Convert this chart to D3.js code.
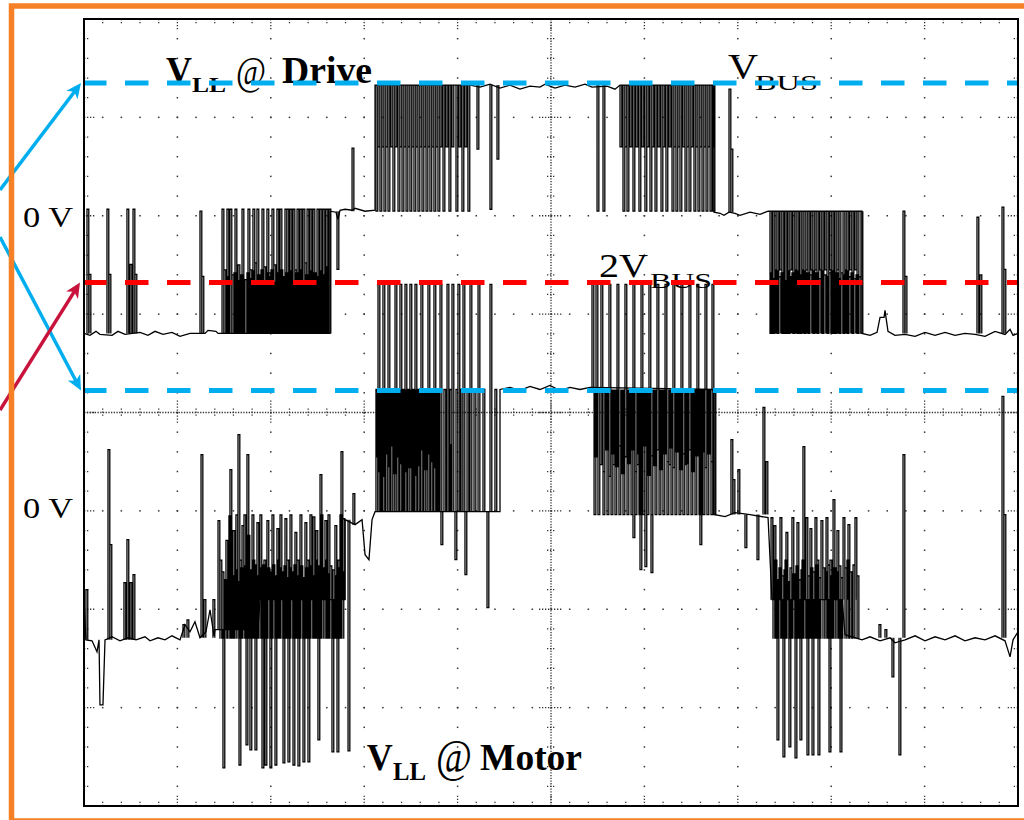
<!DOCTYPE html>
<html><head><meta charset="utf-8">
<script src="https://cdn.jsdelivr.net/npm/d3@7"></script>
<style>body{margin:0;background:#fff}svg{display:block}</style>
</head><body><svg id="c" width="1024" height="820"></svg>
<script>
// ---------- data (time in divisions 0..10, voltage in divisions relative to each channel's 0 V) ----------
const channelOffsets = { drive: 2, motor: -1 };
const dH = 1.328, dM = 0.046, dL = -1.196;   // drive trace levels (+Vbus, 0, -Vbus)

const driveBase = [[0,-1.196],[0.064,-1.216],[0.128,-1.175],[0.171,-1.206],[0.300,-1.216],[0.364,-1.175],[0.439,-1.206],[0.600,-1.185],[0.685,-1.216],[0.760,-1.175],[0.846,-1.206],[0.942,-1.185],[1.028,-1.226],[1.135,-1.196],[1.296,-1.196],[1.328,-1.165],[1.413,-1.175],[1.435,-1.196],[2.634,-1.196],[2.634,0.046],[2.698,0.036],[2.720,-0.036],[2.741,0.056],[2.795,0.066],[2.870,0.056],[2.902,0.076],[3.009,0.046],[3.116,0.056],[3.116,1.328],[4.133,1.328],[4.240,1.308],[4.347,1.338],[4.454,1.298],[4.561,1.328],[4.668,1.287],[4.775,1.318],[4.882,1.308],[4.936,1.338],[5.043,1.298],[5.150,1.328],[5.257,1.308],[5.364,1.338],[5.439,1.308],[5.600,1.318],[5.685,1.287],[5.739,1.328],[6.745,1.328],[6.745,0.036],[6.810,0.025],[6.852,0.005],[6.906,0.036],[6.970,0.025],[7.024,0.005],[7.131,0.036],[7.238,0.015],[7.324,0.046],[8.330,0.046],[8.330,-1.196],[8.416,-1.216],[8.491,-1.185],[8.523,-1.033],[8.566,-1.033],[8.576,-0.962],[8.608,-1.175],[8.683,-1.216],[8.791,-1.206],[8.898,-1.226],[9.005,-1.185],[9.112,-1.216],[9.219,-1.185],[9.326,-1.216],[9.433,-1.196],[9.540,-1.206],[9.647,-1.226],[9.754,-1.175],[9.861,-1.206],[9.915,-1.155],[9.947,-1.216],[10,-1.196]];

// pulses: [time, from, to]
const driveSpikes = [[0.032,dL,0.066],[0.054,dL,-0.595],[0.246,dL,0.066],[0.268,dL,-0.595],[0.460,dL,0.066],[0.493,dL,-0.494],[0.525,dL,0.066],[0.546,dL,-0.595],[1.242,dL,0.046],[1.263,dL,-0.616],[2.709,dM,-0.545],[2.870,dM,0.687],[4.208,dH,0.677],[4.347,dH,0.066],[4.422,dH,0.576],[6.906,0.036,1.287],[6.927,0.036,0.677],[8.769,dL,0.046],[8.791,dL,-0.616],[9.561,dL,-0.015],[9.593,dL,-0.6],[9.829,dL,0.087],[9.850,dL,-0.545]];
const driveBurstA = [[1.478,dL,0.066],[1.531,dL,0.066],[1.563,dL,0.066],[1.617,dL,0.066],[1.692,dL,0.066],[1.756,dL,0.066],[1.809,dL,0.066],[1.852,dL,0.066],[1.906,dL,0.066],[1.959,dL,0.066],[2.013,dL,0.066],[2.066,dL,0.066],[2.099,dL,0.066],[2.152,dL,0.066],[2.173,dL,0.066],[2.206,dL,0.066],[2.238,dL,0.066],[2.281,dL,0.066],[2.313,dL,0.066],[2.345,dL,0.066],[2.388,dL,0.066],[2.420,dL,0.066],[2.452,dL,0.066],[2.495,dL,0.066],[2.527,dL,0.066],[2.559,dL,0.066],[2.591,dL,0.066],[2.623,dL,0.066],
  [1.499,dL,-0.55],[1.585,dL,-0.60],[1.649,dL,-0.50],[1.724,dL,-0.65],[1.777,dL,-0.55],[1.831,dL,-0.48],[1.874,dL,-0.60],[1.927,dL,-0.52],[1.981,dL,-0.58],[2.034,dL,-0.50],[2.120,dL,-0.62],[2.259,dL,-0.55],[2.366,dL,-0.48],[2.473,dL,-0.60],[2.580,dL,-0.52]];
const driveBandA = [[1.520,dL,-0.62],[1.542,dL,-0.70],[1.606,dL,-0.58],[1.638,dL,-0.66],[1.681,dL,-0.60],[1.702,dL,-0.72],[1.745,dL,-0.58],[1.767,dL,-0.64],[1.799,dL,-0.56],[1.842,dL,-0.70],[1.863,dL,-0.60],[1.895,dL,-0.55],[1.917,dL,-0.66],[1.949,dL,-0.58],[1.970,dL,-0.62],[2.002,dL,-0.55],[2.024,dL,-0.68],[2.056,dL,-0.58],[2.077,dL,-0.62],[2.109,dL,-0.55],[2.141,dL,-0.66],[2.163,dL,-0.58],[2.195,dL,-0.62],[2.216,dL,-0.56],[2.248,dL,-0.68],[2.270,dL,-0.58],[2.291,dL,-0.62],[2.323,dL,-0.55],[2.355,dL,-0.66],[2.377,dL,-0.60],[2.409,dL,-0.56],[2.430,dL,-0.68],[2.462,dL,-0.58],[2.484,dL,-0.62],[2.516,dL,-0.56],[2.538,dL,-0.66],[2.570,dL,-0.60],[2.602,dL,-0.56]];
const driveBurstB = [[3.126,dH,dM],[3.169,dH,dM],[3.212,dH,dM],[3.255,dH,dM],[3.308,dH,dM],[3.362,dH,dM],[3.405,dH,dM],[3.448,dH,dM],[3.490,dH,dM],[3.533,dH,dM],[3.576,dH,dM],[3.619,dH,dM],[3.662,dH,dM],[3.704,dH,dM],[3.747,dH,dM],[3.790,dH,dM],[3.844,dH,dM],[3.908,dH,dM],[3.983,dH,dM],[4.047,dH,dM],[4.111,dH,dM],
  [3.148,dH,0.70],[3.191,dH,0.70],[3.233,dH,0.70],[3.287,dH,0.70],[3.330,dH,0.70],[3.383,dH,0.70],[3.426,dH,0.70],[3.469,dH,0.70],[3.512,dH,0.70],[3.555,dH,0.70],[3.597,dH,0.70],[3.640,dH,0.70],[3.683,dH,0.70],[3.726,dH,0.70],[3.769,dH,0.70],[3.812,dH,0.70],[3.876,dH,0.70],[3.940,dH,0.70],[4.015,dH,0.70],[4.079,dH,0.70]];
const driveBurstC = [[5.493,dH,dM],[5.557,dH,dM],[5.771,dH,dM],[5.814,dH,dM],[5.878,dH,dM],[5.942,dH,dM],[6.006,dH,dM],[6.060,dH,dM],[6.114,dH,dM],[6.178,dH,dM],[6.231,dH,dM],[6.296,dH,dM],[6.338,dH,dM],[6.381,dH,dM],[6.435,dH,dM],[6.478,dH,dM],[6.531,dH,dM],[6.574,dH,dM],[6.617,dH,dM],[6.660,dH,dM],[6.703,dH,dM],[6.735,dH,dM],
  [5.739,dH,0.70],[5.792,dH,0.70],[5.846,dH,0.70],[5.910,dH,0.70],[5.974,dH,0.70],[6.028,dH,0.70],[6.081,dH,0.70],[6.146,dH,0.70],[6.199,dH,0.70],[6.264,dH,0.70],[6.317,dH,0.70],[6.360,dH,0.70],[6.413,dH,0.70],[6.456,dH,0.70],[6.499,dH,0.70],[6.553,dH,0.70],[6.595,dH,0.70],[6.638,dH,0.70],[6.681,dH,0.70],[6.724,dH,0.70]];
const driveBurstD = [[7.345,dM,dL],[7.377,dM,dL],[7.420,dM,dL],[7.473,dM,dL],[7.506,dM,dL],[7.538,dM,dL],[7.591,dM,dL],[7.634,dM,dL],[7.666,dM,dL],[7.709,dM,dL],[7.752,dM,dL],[7.805,dM,dL],[7.848,dM,dL],[7.902,dM,dL],[7.955,dM,dL],[8.009,dM,dL],[8.041,dM,dL],[8.084,dM,dL],[8.127,dM,dL],[8.169,dM,dL],[8.223,dM,dL],[8.277,dM,dL],[8.319,dM,dL],
  [7.399,dM,-0.55],[7.452,dM,-0.55],[7.559,dM,-0.55],[7.613,dM,-0.55],[7.688,dM,-0.55],[7.730,dM,-0.55],[7.784,dM,-0.55],[7.827,dM,-0.55],[7.880,dM,-0.55],[7.934,dM,-0.55],[7.987,dM,-0.55],[8.062,dM,-0.55],[8.148,dM,-0.55],[8.201,dM,-0.55],[8.255,dM,-0.55]];
const driveBandD = [[7.356,dL,-0.58],[7.388,dL,-0.64],[7.409,dL,-0.56],[7.441,dL,-0.62],[7.463,dL,-0.58],[7.495,dL,-0.66],[7.527,dL,-0.56],[7.548,dL,-0.62],[7.580,dL,-0.58],[7.602,dL,-0.64],[7.623,dL,-0.56],[7.656,dL,-0.60],[7.677,dL,-0.62],[7.698,dL,-0.56],[7.720,dL,-0.64],[7.741,dL,-0.58],[7.773,dL,-0.60],[7.795,dL,-0.56],[7.816,dL,-0.62],[7.837,dL,-0.58],[7.870,dL,-0.64],[7.891,dL,-0.56],[7.923,dL,-0.60],[7.945,dL,-0.62],[7.977,dL,-0.58],[7.998,dL,-0.56],[8.030,dL,-0.62],[8.052,dL,-0.58],[8.073,dL,-0.64],[8.105,dL,-0.58],[8.137,dL,-0.60],[8.159,dL,-0.56],[8.191,dL,-0.62],[8.212,dL,-0.58],[8.244,dL,-0.64],[8.266,dL,-0.60],[8.298,dL,-0.62]];

const mT = 1.234, mZ = -0.038, mB = -1.29, mE = -0.903; // motor levels
const motorBase = [[0,-0.903],[0.021,-1.311],[0.086,-1.321],[0.139,-1.433],[0.161,-1.311],[0.171,-1.972],[0.203,-1.972],[0.225,-1.311],[0.300,-1.280],[0.385,-1.321],[0.471,-1.290],[0.557,-1.311],[0.653,-1.280],[0.707,-1.321],[0.792,-1.290],[0.867,-1.311],[0.942,-1.270],[1.028,-1.311],[1.081,-1.157],[1.135,-1.229],[1.188,-1.127],[1.242,-1.290],[1.306,-1.229],[1.349,-1.005],[1.392,-1.270],[1.403,-1.208],[1.863,-1.208],[1.884,-0.903],[2.795,-0.903],[2.795,-0.089],[2.902,-0.140],[2.977,-0.089],[3.009,-0.445],[3.051,-0.496],[3.084,-0.089],[3.116,-0.008],[4.454,-0.008],[4.454,1.234],[4.561,1.255],[4.668,1.224],[4.775,1.265],[4.882,1.234],[4.989,1.275],[5.096,1.224],[5.204,1.255],[5.311,1.234],[5.418,1.255],[6.756,1.234],[6.756,-0.038],[6.863,-0.059],[6.970,-0.018],[7.131,-0.038],[7.324,-0.069],[7.366,-0.903],[8.116,-0.903],[8.148,-1.259],[8.330,-1.311],[8.416,-1.280],[8.523,-1.321],[8.630,-1.290],[8.683,-1.341],[8.791,-1.311],[8.898,-1.270],[9.005,-1.321],[9.112,-1.280],[9.219,-1.311],[9.326,-1.270],[9.433,-1.321],[9.540,-1.290],[9.647,-1.311],[9.754,-1.270],[9.861,-1.321],[9.915,-1.484],[9.947,-1.311],[10,-1.229]];

const motorSpikes = [[0.021,-1.311,-0.801],[0.257,-1.311,0.623],[0.278,-1.311,-0.343],[0.428,-1.311,-0.730],[0.460,-1.311,-0.292],[0.493,-1.311,-0.730],[0.525,-1.311,-0.648],[1.060,mB,-1.157],[1.103,mB,-1.107],[1.253,mB,0.572],[1.285,mB,-0.903],[1.381,mB,-0.903],
  [6.927,mZ,0.725],[6.949,mZ,0.318],[7.002,mZ,0.420],[7.077,mZ,-0.374],[7.206,mZ,-0.496],[7.270,mZ,1.051],[7.302,mZ,0.501],
  [8.512,mB,-1.157],[8.576,mB,-1.208],[8.651,mB,-1.687],[8.726,mB,-2.481],[8.769,mB,0.572],[9.829,mB,1.163],[9.850,mB,-0.038]];
const motorBurstE = [[1.488,-1.208,-2.613],[1.660,-1.208,-2.583],[1.735,-1.208,-2.379],[1.777,-1.208,-2.430],[1.831,-1.208,-2.430],[1.906,mE,-2.613],[1.938,mE,-2.583],[1.991,mE,-2.613],[2.045,mE,-2.583],[2.131,mE,-2.562],[2.184,mE,-2.552],[2.238,mE,-2.583],[2.291,mE,-2.593],[2.345,mE,-2.552],[2.398,mE,-2.552],[2.505,mE,-2.328],[2.655,mE,-2.450],[2.709,mE,-2.450],[2.827,-0.089,-2.440],
  [1.435,-1.208,-0.10],[1.520,-1.208,-0.30],[1.552,-1.208,-0.05],[1.595,-1.208,-0.20],[1.627,-1.208,-0.04],[1.692,-1.208,-0.15],[1.713,-1.208,-0.04],[1.756,-1.208,-0.25],[1.799,-1.208,-0.04],[1.852,-1.208,-0.12],
  [1.884,mE,-0.04],[1.959,mE,-0.10],[2.013,mE,-0.04],[2.066,mE,-0.18],[2.099,mE,-0.04],[2.152,mE,-0.08],[2.206,mE,-0.04],[2.259,mE,-0.22],[2.313,mE,-0.04],[2.366,mE,-0.12],[2.420,mE,-0.04],[2.452,mE,-0.06],[2.484,mE,-0.20],[2.538,mE,-0.04],[2.580,mE,-0.10],[2.613,mE,-0.04],[2.687,mE,-0.15],[2.741,mE,-0.04],[2.773,mE,-0.08],
  [1.563,-1.208,0.420],[1.649,-1.208,0.776],[1.745,-1.208,0.572],[2.527,mE,0.369],[2.752,mE,0.603],[2.880,-0.140,0.176],
  [1.456,-1.30,-0.50],[1.574,-1.30,-0.50],[1.670,-1.30,-0.50],[1.809,-1.30,-0.50],[1.927,-1.30,-0.50],[2.077,-1.30,-0.50],[2.173,-1.30,-0.50],[2.281,-1.30,-0.50],[2.388,-1.30,-0.50],[2.473,-1.30,-0.50],[2.591,-1.30,-0.50],[2.720,-1.30,-0.50]];
const motorBandE = [[1.478,-1.30,-0.62],[1.510,-1.30,-0.70],[1.542,-1.30,-0.58],[1.585,-1.30,-0.66],[1.617,-1.30,-0.60],[1.638,-1.30,-0.72],[1.681,-1.30,-0.58],[1.702,-1.30,-0.64],[1.724,-1.30,-0.56],[1.767,-1.30,-0.70],[1.788,-1.30,-0.60],[1.820,-1.30,-0.55],[1.842,-1.30,-0.66],[1.874,-1.30,-0.58],[1.895,-1.30,-0.62],[1.917,-1.30,-0.55],[1.949,-1.30,-0.68],[1.970,-1.30,-0.58],[2.002,-1.30,-0.62],[2.024,-1.30,-0.55],[2.056,-1.30,-0.66],[2.088,-1.30,-0.58],[2.109,-1.30,-0.62],[2.141,-1.30,-0.56],[2.163,-1.30,-0.68],[2.195,-1.30,-0.58],[2.216,-1.30,-0.62],[2.248,-1.30,-0.55],[2.270,-1.30,-0.66],[2.302,-1.30,-0.60],[2.323,-1.30,-0.56],[2.355,-1.30,-0.68],[2.377,-1.30,-0.58],[2.409,-1.30,-0.62],[2.430,-1.30,-0.56],[2.462,-1.30,-0.66],[2.495,-1.30,-0.60],[2.516,-1.30,-0.56],[2.548,-1.30,-0.62],[2.570,-1.30,-0.58],[2.602,-1.30,-0.64],[2.634,-1.30,-0.56],[2.666,-1.30,-0.60],[2.698,-1.30,-0.66],[2.730,-1.30,-0.58],[2.762,-1.30,-0.62]];
const motorBurstF = [[3.148,-0.008,2.303],[3.201,-0.008,2.303],[3.255,-0.008,2.303],[3.330,-0.008,2.303],[3.383,-0.008,2.303],[3.437,-0.008,2.303],[3.490,-0.008,2.303],[3.544,-0.008,2.303],[3.608,-0.008,2.303],[3.683,-0.008,2.303],[3.747,-0.008,2.303],[3.812,-0.008,2.303],[3.887,-0.008,2.303],[3.940,-0.008,2.303],[4.004,-0.008,2.303],[4.058,-0.008,2.303],[4.133,-0.008,2.303],[4.219,-0.008,2.303],[4.347,-0.008,2.303],
  [3.126,-0.008,mT],[3.169,-0.008,mT],[3.233,-0.008,mT],[3.287,-0.008,mT],[3.351,-0.008,mT],[3.416,-0.008,mT],[3.469,-0.008,mT],[3.523,-0.008,mT],[3.576,-0.008,mT],[3.640,-0.008,mT],[3.715,-0.008,mT],[3.780,-0.008,mT],[3.854,-0.008,mT],[3.919,-0.008,mT],[3.983,-0.008,mT],[4.037,-0.008,mT],[4.101,-0.008,mT],[4.176,-0.008,mT],[4.272,-0.008,mT],[4.400,-0.008,mT],
  [3.180,-0.008,0.674],[3.308,-0.008,0.674],[3.405,-0.008,0.674],[3.512,-0.008,0.674],[3.662,-0.008,0.674],[3.769,-0.008,0.674],[3.908,-0.008,0.674],
  [3.822,-0.008,-0.343],[3.972,-0.008,-0.496],[4.315,-0.008,-0.984],[4.079,-0.008,-0.648]];
const motorBandF = [[3.137,mT,0.55],[3.159,mT,0.40],[3.191,mT,0.62],[3.212,mT,0.35],[3.244,mT,0.58],[3.266,mT,0.45],[3.298,mT,0.66],[3.319,mT,0.38],[3.340,mT,0.55],[3.373,mT,0.48],[3.394,mT,0.62],[3.426,mT,0.40],[3.448,mT,0.58],[3.480,mT,0.44],[3.501,mT,0.66],[3.533,mT,0.36],[3.555,mT,0.56],[3.587,mT,0.46],[3.619,mT,0.62],[3.651,mT,0.42],[3.673,mT,0.58],[3.705,mT,0.50],[3.737,mT,0.64],[3.758,mT,0.44],[3.790,mT,0.60]];
const motorBurstG = [[5.461,mT,mZ],[5.503,mT,mZ],[5.557,mT,mZ],[5.600,mT,mZ],[5.643,mT,mZ],[5.685,mT,mZ],[5.728,mT,mZ],[5.771,mT,mZ],[5.814,mT,mZ],[5.857,mT,mZ],[5.900,mT,mZ],[5.942,mT,mZ],[5.985,mT,mZ],[6.028,mT,mZ],[6.071,mT,mZ],[6.114,mT,mZ],[6.157,mT,mZ],[6.199,mT,mZ],[6.242,mT,mZ],[6.285,mT,mZ],[6.328,mT,mZ],[6.371,mT,mZ],[6.413,mT,mZ],[6.456,mT,mZ],[6.499,mT,mZ],[6.542,mT,mZ],[6.585,mT,mZ],[6.628,mT,mZ],[6.670,mT,mZ],[6.713,mT,mZ],[6.745,mT,mZ],
  [5.439,mT,2.303],[5.482,mT,2.303],[5.535,mT,2.303],[5.621,mT,2.303],[5.707,mT,2.303],[5.792,mT,2.303],[5.878,mT,2.303],[5.964,mT,2.303],[6.049,mT,2.303],[6.135,mT,2.303],[6.221,mT,2.303],[6.306,mT,2.303],[6.392,mT,2.303],[6.478,mT,2.303],[6.563,mT,2.303],[6.649,mT,2.303],[6.724,mT,2.303],
  [5.953,mT,-0.598],[6.071,mT,-0.628],[5.878,mT,-0.272],[6.006,mT,-0.567],[6.595,mT,-0.343],
  [5.525,mT,0.471],[5.664,mT,0.471],[5.750,mT,0.471],[5.921,mT,0.471],[6.092,mT,0.471],[6.264,mT,0.471],[6.435,mT,0.471],[6.606,mT,0.471]];
const motorBandG = [[5.471,mT,0.55],[5.557,mT,0.40],[5.589,mT,0.62],[5.621,mT,0.35],[5.653,mT,0.58],[5.696,mT,0.45],[5.728,mT,0.66],[5.760,mT,0.38],[5.792,mT,0.55],[5.825,mT,0.48],[5.867,mT,0.62],[5.900,mT,0.40],[5.932,mT,0.58],[5.964,mT,0.44],[5.996,mT,0.66],[6.039,mT,0.36],[6.071,mT,0.56],[6.103,mT,0.46],[6.135,mT,0.62],[6.167,mT,0.42],[6.210,mT,0.58],[6.242,mT,0.50],[6.274,mT,0.64],[6.306,mT,0.44],[6.338,mT,0.60],[6.381,mT,0.42],[6.413,mT,0.58],[6.446,mT,0.48],[6.478,mT,0.62],[6.510,mT,0.40],[6.553,mT,0.56],[6.585,mT,0.46],[6.617,mT,0.60],[6.649,mT,0.44],[6.681,mT,0.58],[6.713,mT,0.50]];
const motorBurstH = [[7.420,mE,-2.328],[7.484,mE,-2.501],[7.548,mE,-2.399],[7.613,mE,-2.511],[7.666,mE,-2.328],[7.741,mE,-2.481],[7.795,mE,-2.481],[7.859,mE,-2.481],[7.977,mE,-2.450],[8.095,mE,-2.450],
  [7.356,mE,-0.07],[7.388,mE,-0.15],[7.452,mE,-0.07],[7.516,mE,-0.22],[7.580,mE,-0.07],[7.634,mE,-0.12],[7.730,mE,-0.07],[7.773,mE,-0.18],[7.827,mE,-0.07],[7.891,mE,-0.10],[7.945,mE,-0.07],[8.062,mE,-0.20],[8.127,mE,-0.07],[8.180,mE,-0.14],[8.255,mE,-0.07],
  [7.698,mE,0.654],[8.020,mE,0.115],
  [7.399,-1.30,-0.50],[7.506,-1.30,-0.50],[7.688,-1.30,-0.50],[7.848,-1.30,-0.50],[7.987,-1.30,-0.50],[8.169,-1.30,-0.50]];
const motorBandH = [[7.377,-1.30,-0.62],[7.409,-1.30,-0.70],[7.441,-1.30,-0.58],[7.473,-1.30,-0.66],[7.495,-1.30,-0.60],[7.527,-1.30,-0.72],[7.559,-1.30,-0.58],[7.591,-1.30,-0.64],[7.623,-1.30,-0.56],[7.656,-1.30,-0.70],[7.677,-1.30,-0.60],[7.709,-1.30,-0.55],[7.752,-1.30,-0.66],[7.784,-1.30,-0.58],[7.805,-1.30,-0.62],[7.837,-1.30,-0.55],[7.870,-1.30,-0.68],[7.912,-1.30,-0.58],[7.934,-1.30,-0.62],[7.966,-1.30,-0.55],[7.998,-1.30,-0.66],[8.030,-1.30,-0.58],[8.052,-1.30,-0.62],[8.084,-1.30,-0.56],[8.105,-1.30,-0.68],[8.148,-1.30,-0.58],[8.201,-1.30,-0.62],[8.234,-1.30,-0.55],[8.277,-1.30,-0.66]];

// reference levels (dashed lines) : [channel, level in div, colour]
const refLines = [["drive", 1.349, "#00AEEF"], ["motor", 2.322, "#FF0000"], ["motor", 1.224, "#00AEEF"]];

// ---------- drawing ----------
const svg = d3.select("#c");
const x = d3.scaleLinear().domain([0, 10]).range([84, 1018]);
const y = d3.scaleLinear().domain([-4, 4]).range([806, 19]);
const xMinor = d3.range(51).map(i => i * 0.2);
const yMinor = d3.range(41).map(i => -4 + i * 0.2);
const GRID = "#333";

svg.append("rect").attr("width", 1024).attr("height", 820).attr("fill", "#fff");

const g = svg.append("g");
[1,2,3,4,6,7,8,9].forEach(m => {
  g.selectAll(null).data(yMinor.slice(1, -1)).join("rect")
    .attr("x", x(m) - 0.75).attr("y", d => y(d) - 0.75).attr("width", 1.5).attr("height", 1.5).attr("fill", GRID);
});
[-3,-2,-1,1,2,3].forEach(m => {
  g.selectAll(null).data(xMinor.slice(1, -1)).join("rect")
    .attr("x", d => x(d) - 0.75).attr("y", y(m) - 0.75).attr("width", 1.5).attr("height", 1.5).attr("fill", GRID);
});
g.append("line").attr("x1", x(5)).attr("x2", x(5)).attr("y1", y(4)).attr("y2", y(-4))
  .attr("stroke", GRID).attr("stroke-width", 1.3).attr("stroke-dasharray", "1.3 1.4");
g.append("line").attr("x1", x(0)).attr("x2", x(10)).attr("y1", y(0)).attr("y2", y(0))
  .attr("stroke", GRID).attr("stroke-width", 1.3).attr("stroke-dasharray", "1.3 1.4");
function tick(x1, y1, x2, y2) {
  g.append("line").attr("x1", x1).attr("y1", y1).attr("x2", x2).attr("y2", y2)
    .attr("stroke", GRID).attr("stroke-width", 1.3).attr("stroke-dasharray", "1.3 1.7");
}
xMinor.slice(1, -1).forEach(t => {
  const major = Math.abs(t - Math.round(t)) < 1e-6;
  const L = major ? 12 : 5;
  tick(x(t), y(0) - (major ? 12 : 4), x(t), y(0) + (major ? 12 : 4));
  tick(x(t), y(4), x(t), y(4) + L);
  tick(x(t), y(-4), x(t), y(-4) - L);
});
yMinor.slice(1, -1).forEach(v => {
  const major = Math.abs(v - Math.round(v)) < 1e-6;
  const L = major ? 12 : 5;
  tick(x(5) - (major ? 12 : 4), y(v), x(5) + (major ? 12 : 4), y(v));
  tick(x(0), y(v), x(0) + L, y(v));
  tick(x(10), y(v), x(10) - L, y(v));
});

// traces
const PW = 1.8;
function drawTrace(base, pulseSets, off) {
  const line = d3.line().x(d => x(d[0])).y(d => y(d[1] + off));
  const tg = svg.append("g").attr("fill", "none").attr("stroke", "#000").attr("stroke-width", 1.3);
  tg.append("path").attr("d", line(base));
  const pulses = pulseSets.flat();
  tg.append("path").attr("d", pulses.map(p =>
    `M${x(p[0])},${y(p[1] + off)}V${y(p[2] + off)}h${PW}V${y(p[1] + off)}`).join(""));
}
drawTrace(driveBase, [driveSpikes, driveBurstA, driveBandA, driveBurstB, driveBurstC, driveBurstD, driveBandD], channelOffsets.drive);
drawTrace(motorBase, [motorSpikes, motorBurstE, motorBandE, motorBurstF, motorBandF, motorBurstG, motorBandG, motorBurstH, motorBandH], channelOffsets.motor);

// texts
const FONT = "'Liberation Serif','Times New Roman',serif";
function txt(s, px, py, size, weight, len) {
  svg.append("text").attr("x", px).attr("y", py).attr("font-family", FONT).attr("font-size", size)
    .attr("font-weight", weight).attr("textLength", len).attr("lengthAdjust", "spacingAndGlyphs")
    .attr("fill", "#000").text(s);
}
txt("0 V", 23, 226.7, 29, "normal", 50);
txt("0 V", 23, 518, 29, "normal", 50);
txt("V", 166, 83, 37, "bold", 26); txt("LL", 192, 92, 21, "bold", 34); txt("@", 236, 84, 40, "normal", 30); txt("Drive", 282, 83, 37, "bold", 90);
txt("V", 366.7, 770, 37, "bold", 26); txt("LL", 393, 780, 26, "bold", 33); txt("@", 436, 772, 46, "normal", 36); txt("Motor", 480, 770, 37, "bold", 102);
txt("V", 728, 78.5, 35, "normal", 30); txt("BUS", 755, 90, 22, "normal", 63);
txt("2V", 599, 277, 33, "normal", 49); txt("BUS", 650, 288, 22, "normal", 62);

// reference dashed lines
refLines.forEach(([ch, v, col]) => {
  svg.append("line").attr("x1", 83).attr("x2", x(10)).attr("y1", y(v + channelOffsets[ch])).attr("y2", y(v + channelOffsets[ch]))
    .attr("stroke", col).attr("stroke-width", 5).attr("stroke-dasharray", "23.5 18.5");
});

// arrows from the left margin to the reference levels
const defs = svg.append("defs");
function marker(id, col) {
  defs.append("marker").attr("id", id).attr("viewBox", "-16 -8 18 16").attr("refX", 0).attr("refY", 0)
    .attr("markerWidth", 18).attr("markerHeight", 16).attr("markerUnits", "userSpaceOnUse").attr("orient", "auto")
    .append("path").attr("d", "M0,0 L-15,-7 L-11,0 L-15,7 Z").attr("fill", col);
}
marker("ab", "#00AEEF"); marker("ar", "#C8143C");
const arrows = [[0, 190, 81, y(refLines[0][1] + 2), "#00AEEF", "ab"], [0, 237, 81, y(refLines[2][1] - 1), "#00AEEF", "ab"], [0, 410, 80, y(refLines[1][1] - 1), "#C8143C", "ar"]];
arrows.forEach(([x1, y1, x2, y2, col, m]) => {
  const ang = Math.atan2(y2 - y1, x2 - x1);
  svg.append("line").attr("x1", x1).attr("y1", y1).attr("x2", x2 - 9 * Math.cos(ang)).attr("y2", y2 - 9 * Math.sin(ang))
    .attr("stroke", col).attr("stroke-width", 3.5);
  svg.append("line").attr("x1", x2 - 1 * Math.cos(ang)).attr("y1", y2 - 1 * Math.sin(ang)).attr("x2", x2).attr("y2", y2)
    .attr("stroke", "none").attr("marker-end", `url(#${m})`);
});

// frames
svg.append("rect").attr("x", x(0)).attr("y", y(4)).attr("width", x(10) - x(0)).attr("height", y(-4) - y(4))
  .attr("fill", "none").attr("stroke", "#000").attr("stroke-width", 2);
svg.append("rect").attr("x", 11.5).attr("y", 6).attr("width", 1040).attr("height", 815)
  .attr("fill", "none").attr("stroke", "#F58025").attr("stroke-width", 5.5);
</script></body></html>
